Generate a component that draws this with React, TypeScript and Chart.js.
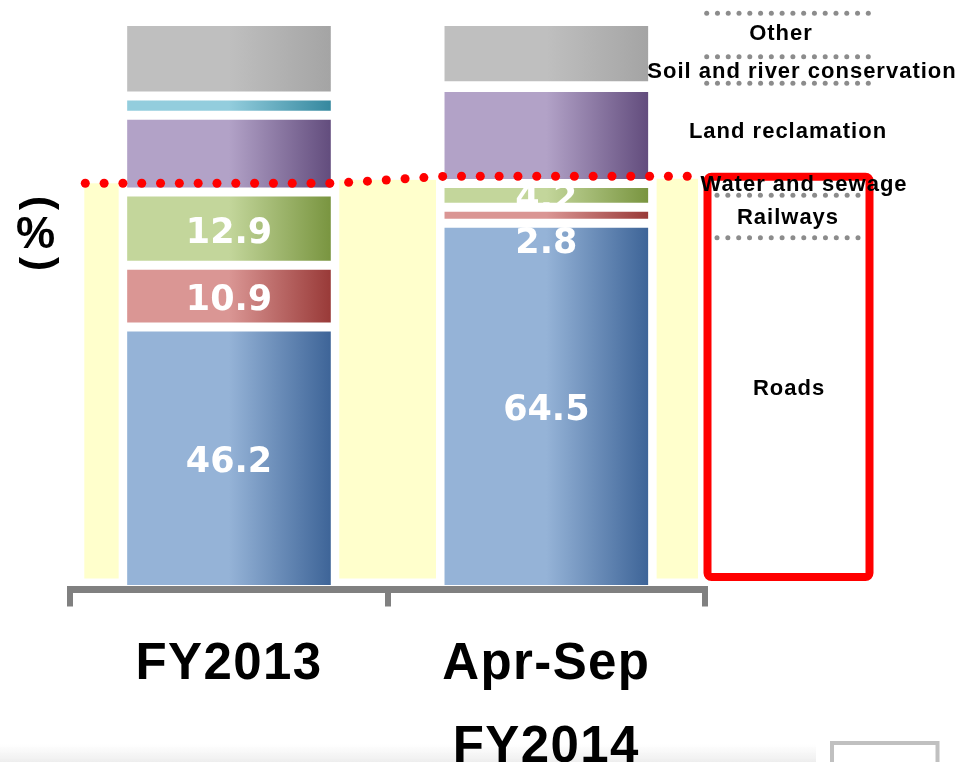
import React, { useEffect, useRef } from "react";
import { Chart, registerables } from "chart.js";

Chart.register(...registerables);

// ---------------- data ----------------
const categoryLines = [["FY2013"], ["Apr-Sep", "FY2014"]];
const categories = ["FY2013", "Apr-Sep FY2014"];
const seriesNames = [
  "Roads",
  "Railways",
  "Water and sewage",
  "Land reclamation",
  "Soil and river conservation",
  "Other",
];
const roads = [46.2, 64.5];
const railways = [10.9, 2.8];
const waterSewage = [12.9, 4.2];
const landReclamation = [13.5, 16.9];
const soilRiver = [3.4, 0.3];
const other = [13.1, 11.3];
const seriesValues = [roads, railways, waterSewage, landReclamation, soilRiver, other];
const showValueLabel = [true, true, true, false, false, false];
const unitLabel = "%";

// ---------------- styles ----------------
const lightColors = ["#95B3D7", "#DA9694", "#C3D69B", "#B2A2C7", "#93CDDD", "#BFBFBF"];
const darkColors = ["#3A6195", "#963634", "#76923C", "#5F497A", "#31859C", "#A3A3A3"];
const BAR_PCT = 0.67;
const W = 977;
const H = 762;

function gradientFor(i: number) {
  return (ctx: any) => {
    const chart = ctx.chart;
    const xs = chart.scales && chart.scales.x;
    if (!xs || ctx.type !== "data") return lightColors[i];
    const cx = xs.getPixelForValue(ctx.dataIndex);
    const w = (xs.width / categories.length) * BAR_PCT;
    if (!isFinite(cx) || !isFinite(w) || w <= 0) return lightColors[i];
    const g = chart.ctx.createLinearGradient(cx - w / 2, 0, cx + w / 2, 0);
    g.addColorStop(0, lightColors[i]);
    g.addColorStop(0.5, lightColors[i]);
    g.addColorStop(1, darkColors[i]);
    return g;
  };
}

function dotLineY(chart: any, x: number) {
  const bars = chart.getDatasetMeta(0).data;
  const b0: any = bars[0];
  const b1: any = bars[1];
  const x0 = b0.x + b0.width / 2 - 2;
  const x1 = b1.x - b1.width / 2 + 4;
  const yA = 183.3;
  const yB = 176.3;
  if (x <= x0) return yA;
  if (x >= x1) return yB;
  return yA + ((x - x0) / (x1 - x0)) * (yB - yA);
}

const labelPlugin = {
  id: "valueLabels",
  beforeDatasetsDraw(chart: any) {
    const c = chart.ctx;
    const area = chart.chartArea;
    const bars = chart.getDatasetMeta(0).data;
    const b0: any = bars[0];
    const b1: any = bars[1];
    const cols = [
      [area.left + 14, b0.x - b0.width / 2 - 4],
      [b0.x + b0.width / 2 + 4, b1.x - b1.width / 2 - 4],
      [b1.x + b1.width / 2 + 4, area.right - 7],
    ];
    c.save();
    c.fillStyle = "#FFFFCC";
    cols.forEach(([l, r], idx) => {
      const top = dotLineY(chart, (l + r) / 2) + (idx === 2 ? 2.5 : 0);
      c.fillRect(l, top, r - l, area.bottom - 11 - top);
    });
    c.restore();
  },
  afterDatasetsDraw(chart: any) {
    const c = chart.ctx;
    c.save();
    c.fillStyle = "#FFFFFF";
    c.font = "bold 35px 'DejaVu Sans'";
    c.textAlign = "center";
    c.textBaseline = "middle";
    chart.data.datasets.forEach((ds: any, di: number) => {
      if (!showValueLabel[di]) return;
      const meta = chart.getDatasetMeta(di);
      meta.data.forEach((el: any, i: number) => {
        const h = el.base - el.y;
        const cy = h < 20 ? el.base + 21 : (el.y + el.base) / 2 + 5;
        c.fillText(Number(ds.data[i]).toFixed(1), el.x, cy);
      });
    });
    c.restore();
  },
};

const decorPlugin = {
  id: "decor",
  afterDraw(chart: any) {
    const c = chart.ctx;
    const area = chart.chartArea;
    const xs = chart.scales.x;
    c.save();

    // red dotted line
    c.fillStyle = "#FF0000";
    for (let k = 0; k <= 32; k++) {
      const x = 85.3 + k * 18.81;
      const y = dotLineY(chart, x);
      c.beginPath();
      c.arc(x, y, 4.5, 0, Math.PI * 2);
      c.fill();
    }

    // red frame
    c.strokeStyle = "#FF0000";
    c.lineWidth = 8;
    c.beginPath();
    if ((c as any).roundRect) (c as any).roundRect(707.5, 176.7, 162, 400.3, 4);
    else c.rect(707.5, 176.7, 162, 400.3);
    c.stroke();

    // grey dotted separators on the right
    c.fillStyle = "#8C8C8C";
    const sepLines = [
      [13.3, 706.7, 868.3, 16],
      [56.7, 706.7, 868.3, 16],
      [83.3, 706.7, 868.3, 16],
      [195.3, 717, 858, 14],
      [237.7, 717, 858, 14],
    ];
    sepLines.forEach(([y, x0, x1, n]) => {
      for (let k = 0; k < n; k++) {
        const x = x0 + ((x1 - x0) * k) / (n - 1);
        c.beginPath();
        c.arc(x, y, 2.5, 0, Math.PI * 2);
        c.fill();
      }
    });

    // right-hand series names
    c.fillStyle = "#000000";
    c.font = "bold 22px 'Liberation Sans'";
    (c as any).letterSpacing = "1px";
    c.textAlign = "center";
    c.textBaseline = "middle";
    const nameSpots: Record<string, [number, number]> = {
      Other: [781, 33.5],
      "Soil and river conservation": [802, 71.7],
      "Land reclamation": [788, 131.7],
      "Water and sewage": [804, 185],
      Railways: [788, 218.3],
      Roads: [789, 389],
    };
    seriesNames.forEach((n) => {
      const p = nameSpots[n];
      c.fillText(n, p[0], p[1]);
    });

    // unit label (vertical)
    (c as any).letterSpacing = "0px";
    c.font = "bold 44px 'Liberation Sans'";
    c.fillText(unitLabel, 35.5, 236);
    c.font = "bold 42px 'Liberation Sans'";
    c.save();
    c.translate(39.5, 203);
    c.rotate(Math.PI / 2);
    c.fillText("(", 0, 0);
    c.restore();
    c.save();
    c.translate(39.5, 264);
    c.rotate(Math.PI / 2);
    c.fillText(")", 0, 0);
    c.restore();

    // bottom slide band + box
    const g = c.createLinearGradient(0, 744, 0, H);
    g.addColorStop(0, "rgba(240,240,240,0)");
    g.addColorStop(1, "rgba(238,238,238,1)");
    c.fillStyle = g;
    c.fillRect(0, 744, 816, H - 744);
    c.strokeStyle = "#C0C0C0";
    c.lineWidth = 4;
    c.strokeRect(832, 743, 105.5, 40);

    // category labels
    c.fillStyle = "#000000";
    c.font = "bold 51px 'Liberation Sans'";
    (c as any).letterSpacing = "1.4px";
    c.textAlign = "center";
    c.textBaseline = "alphabetic";
    categoryLines.forEach((lines, i) => {
      const x = xs.getPixelForValue(i);
      lines.forEach((t, li) => {
        c.fillText(t, x, area.bottom + 89.5 + li * 83);
      });
    });

    c.restore();
  },
};

export default function App() {
  const ref = useRef<HTMLCanvasElement | null>(null);
  useEffect(() => {
    if (!ref.current) return;
    const chart = new Chart(ref.current, {
      type: "bar",
      data: {
        labels: categories,
        datasets: seriesNames.map((name, i) => ({
          label: name,
          data: seriesValues[i],
          backgroundColor: gradientFor(i),
          borderColor: "#FFFFFF",
          borderWidth: 4.5,
          borderSkipped: false,
          categoryPercentage: 1,
          barPercentage: BAR_PCT,
        })),
      },
      options: {
        responsive: false,
        animation: false,
        devicePixelRatio: 1,
        layout: { padding: { left: 70.3, right: 272, top: 21.5, bottom: 155.5 } },
        plugins: { legend: { display: false }, tooltip: { enabled: false } },
        scales: {
          x: {
            stacked: true,
            offset: true,
            z: 1,
            grid: {
              display: true,
              drawOnChartArea: false,
              drawTicks: true,
              tickLength: 17,
              lineWidth: 6,
              color: "#808080",
              offset: true,
              z: 1,
            },
            border: { display: true, color: "#808080", width: 7, z: 1 },
            ticks: { display: false },
          },
          y: { stacked: true, min: 0, max: 100, display: false },
        },
      },
      plugins: [labelPlugin, decorPlugin],
    });
    return () => chart.destroy();
  }, []);
  return (
    <div
      style={{
        position: "fixed",
        left: 0,
        top: 0,
        width: W,
        height: H,
        background: "#FFFFFF",
        overflow: "hidden",
      }}
    >
      <canvas ref={ref} width={W} height={H} style={{ display: "block" }} />
    </div>
  );
}
